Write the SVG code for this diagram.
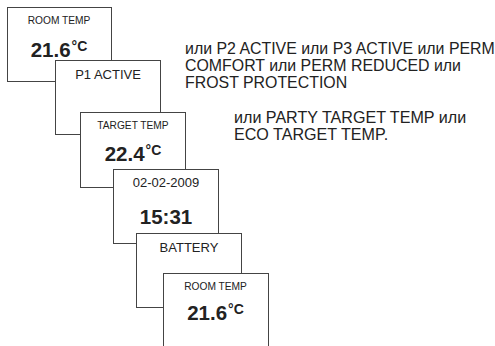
<svg xmlns="http://www.w3.org/2000/svg" width="495" height="346" viewBox="0 0 495 346">
<style>
.box{fill:#fff;stroke:#444;stroke-width:1}
text{font-family:"Liberation Sans",Arial,sans-serif;fill:#222}
.sm{font-size:10.2px;text-anchor:middle}
.md{font-size:13px;text-anchor:middle}
.big{font-size:20.5px;font-weight:bold;text-anchor:middle}
.sup{font-size:14px}
.note{font-size:15.9px}
.note2{font-size:16.1px}
</style>
<rect width="495" height="346" fill="#fff"/>
<g id="node1">
<rect class="box" x="7.5" y="7.5" width="104" height="74"/>
<text class="sm" x="59" y="24">ROOM TEMP</text>
<text class="big" x="59" y="57">21.6<tspan class="sup" dx="1" dy="-6">°C</tspan></text>
</g>
<g id="node2">
<rect class="box" x="55.5" y="60.5" width="105" height="74"/>
<text class="md" x="108" y="79">P1 ACTIVE</text>
</g>
<g id="node3">
<rect class="box" x="80.5" y="112.5" width="105" height="75"/>
<text class="sm" x="133" y="128.7">TARGET TEMP</text>
<text class="big" x="133" y="161">22.4<tspan class="sup" dx="1" dy="-6">°C</tspan></text>
</g>
<g id="node4">
<rect class="box" x="113.5" y="169.5" width="105" height="74"/>
<text class="md" x="166" y="187.3">02-02-2009</text>
<text class="big" x="166" y="224">15:31</text>
</g>
<g id="node5">
<rect class="box" x="136.5" y="233.5" width="105" height="74"/>
<text class="md" x="189" y="251.7">BATTERY</text>
</g>
<g id="node6">
<rect class="box" x="163.5" y="273.5" width="105" height="76"/>
<text class="sm" x="215.5" y="290">ROOM TEMP</text>
<text class="big" x="215.5" y="320">21.6<tspan class="sup" dx="1" dy="-6">°C</tspan></text>
</g>
<g id="connectors"></g>
<g id="notes">
<text class="note" x="185" y="53.5">или P2 ACTIVE или P3 ACTIVE или PERM</text>
<text class="note" x="185" y="70.5">COMFORT или PERM REDUCED или</text>
<text class="note" x="185" y="87.5">FROST PROTECTION</text>
<text class="note2" x="234" y="122.5">или PARTY TARGET TEMP или</text>
<text class="note2" x="234" y="139.5">ECO TARGET TEMP.</text>
</g>
</svg>
